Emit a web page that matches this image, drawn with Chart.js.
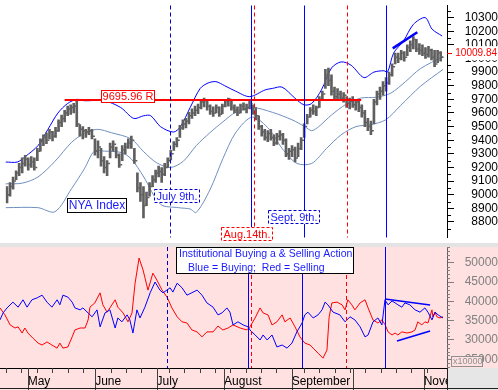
<!DOCTYPE html>
<html>
<head>
<meta charset="utf-8">
<script src="https://cdn.jsdelivr.net/npm/chart.js@4.4.0/dist/chart.umd.min.js"></script>
<style>
  html, body { margin: 0; padding: 0; background: #fff; }
  #wrap { position: relative; width: 498px; height: 390px; overflow: hidden; }
  #top { position: absolute; left: 0; top: 0; }
  #bottom { position: absolute; left: 0; top: 243px; }
</style>
</head>
<body>
<div id="wrap">
  <canvas id="top" width="498" height="243"></canvas>
  <canvas id="bottom" width="498" height="147"></canvas>
</div>
<script>
// NYA daily bars, one per trading day (day 0 = Apr 18)
var highs = [9060,9090,9130,9175,9230,9270,9290,9270,9280,9270,9340,9410,9440,9455,9480,9465,9495,9550,9585,9620,
  9650,9660,9670,9700,9515,9500,9480,9495,9480,9410,9395,9340,9280,9250,9380,9395,9350,9300,9360,9380,
  9410,9430,9340,9160,9090,9060,9020,9090,9140,9180,9210,9200,9230,9270,9325,9390,9420,9510,9550,9560,
  9605,9630,9650,9665,9700,9710,9690,9660,9645,9660,9645,9665,9700,9710,9690,9660,9645,9665,9675,9665,
  9690,9660,9640,9580,9510,9480,9470,9480,9440,9450,9470,9450,9410,9340,9360,9350,9380,9420,9520,9590,
  9640,9660,9650,9720,9760,9920,9930,9880,9790,9780,9760,9750,9720,9710,9720,9700,9690,9660,9620,9560,
  9540,9700,9760,9790,9830,9860,9900,9960,10040,10040,10060,10050,10100,10130,10160,10140,10110,10100,10080,10090,
  10070,10060,10060,10050];
var lows = [8940,8990,9040,9110,9140,9160,9210,9180,9200,9180,9250,9320,9360,9375,9410,9395,9420,9465,9500,9535,
  9580,9590,9600,9500,9430,9410,9420,9440,9410,9290,9270,9210,9160,9140,9270,9320,9270,9200,9250,9300,
  9340,9340,9230,9020,8950,8830,8920,8990,9060,9090,9130,9090,9140,9200,9255,9325,9350,9420,9480,9490,
  9520,9560,9580,9595,9630,9645,9620,9590,9575,9600,9575,9595,9645,9650,9620,9600,9580,9600,9620,9600,
  9630,9590,9550,9480,9430,9400,9390,9400,9360,9370,9400,9370,9280,9260,9280,9240,9280,9330,9420,9520,
  9570,9590,9580,9640,9690,9780,9800,9730,9700,9700,9690,9680,9640,9630,9640,9620,9610,9570,9500,9470,
  9440,9520,9660,9700,9730,9760,9810,9870,9960,9970,9990,9980,10020,10050,10070,10050,10030,10020,10000,10010,
  9990,9940,9970,9980];
var closes = [9000,9060,9100,9160,9200,9230,9260,9220,9240,9200,9320,9390,9420,9400,9460,9430,9470,9530,9560,9600,
  9630,9640,9650,9520,9480,9470,9460,9470,9430,9320,9350,9250,9200,9230,9350,9370,9290,9220,9330,9350,
  9380,9400,9250,9050,9000,8920,8980,9060,9110,9160,9170,9150,9200,9250,9300,9370,9400,9490,9520,9540,
  9580,9600,9620,9640,9680,9690,9650,9610,9600,9640,9590,9650,9690,9700,9640,9620,9600,9650,9630,9640,
  9670,9610,9580,9500,9460,9420,9450,9420,9380,9430,9440,9400,9300,9320,9330,9270,9340,9400,9500,9570,
  9620,9610,9640,9700,9740,9880,9840,9760,9720,9740,9710,9730,9670,9690,9660,9680,9640,9600,9530,9500,
  9470,9680,9740,9760,9800,9820,9880,9940,10010,10000,10040,10010,10080,10100,10140,10070,10060,10040,10030,10060,
  10010,9960,10040,10009.84];

// Bollinger bands, read at (day, value)
var upperDays = [0,3.9,6.5,10.7,14,17.3,20.5,23.5,26,32.6,38,42.3,45.6,47.9,51.1,55.4,57.7,60.9,64.2,66.8,69.4,72.3,75.9,80.5,
  85.7,88,91.2,95.4,98.4,101,104.2,107.5,110.7,114,118.2,121.5,124.8,126,128,131.3,134.5,138.4,140.7,144];
var upperBand = [9240,9240,9280,9360,9480,9600,9670,9700,9690,9690,9640,9560,9580,9580,9500,9460,9500,9640,9780,9820,9830,9800,9760,9720,
  9770,9780,9790,9710,9660,9670,9770,9930,9975,9950,9860,9900,9910,9900,10040,10130,10250,10300,10215,10165];
var middleDays = [0,5.5,10.7,16.3,21.8,26,30.3,34.9,41.4,45.6,49.8,54.4,58.6,62.9,67.4,71.7,75.9,81.4,88,94.5,98.7,101,103.3,
  107.5,112.4,117.3,122.1,127,131.9,136.8,144.3];
var middleBand = [9080,9085,9130,9245,9385,9450,9480,9455,9410,9315,9235,9200,9245,9360,9455,9535,9605,9640,9605,9550,9500,9470,9500,
  9585,9665,9710,9715,9745,9830,9925,10015];
var lowerDays = [0,10.7,16.3,21.8,26,29.3,32.6,38.1,41.4,45.6,51.1,57,60.9,62.9,67.4,71.7,75.9,81.4,87,91.2,96.1,101,105.9,
  110.7,115.6,120.5,125.4,130.3,136.8,144.3];
var lowerBand = [8905,8905,8875,9045,9190,9320,9320,9310,9265,9130,8930,8905,8895,8870,9035,9265,9455,9570,9480,9340,9230,9230,9340,
  9440,9500,9515,9550,9655,9795,9920];

// institutional buying / selling (day, value)
var buyDays = [0,1,2.3,4.2,5.9,7.5,8.8,10.4,12.1,13.7,15.3,16.9,18.6,19.5,20.5,22.1,23.5,24.4,26.1,27,28.7,30,31.6,32.6,34.2,
  35.8,37.5,38.4,39.7,41.4,42.3,43.3,44.6,45.6,47.2,48.9,50.5,52.1,53.1,55.4,56.3,57.7,59.3,60.9,64.2,65.8,67.4,69.4,71,
  72.3,73.9,74.9,75.9,77.5,79.2,80.8,81.4,83.1,84.7,85.7,87,88.6,90.2,91.9,93.5,95.1,96.7,98.4,99.3,100.3,102,103.6,104.9,
  105.9,106.8,108.5,110.7,112.4,114,115.6,117.3,118.9,119.9,121.5,123.1,124.4,125.4,126.4,127.7,128.7,129.6,130.9,131.9,
  133.5,135.2,136.8,138.4,139.4,140.7,141.7,142.7,144.3];
var buying = [35200,37000,38300,39800,38500,40400,38500,40400,40900,41600,39800,38500,40400,39100,41600,41100,39800,38300,37800,38300,
  37000,36000,37800,33400,37000,37800,33100,35700,34700,36500,35200,31800,37800,35700,38500,42200,45000,42900,42200,43500,
  42400,44700,43500,41600,42900,41600,39600,38500,36500,37000,38300,37200,33900,34700,33900,33400,32600,31300,30000,31300,
  30000,31300,28200,28700,27900,29200,32100,34400,36500,37200,35700,36500,37800,39800,39100,37200,36500,34700,36000,35200,
  33400,30800,31300,34700,35700,33900,40400,39100,40100,39600,39100,38500,39600,39100,37800,37200,38300,37200,35200,37200,
  36500,35700];
var sellDays = [0,1.6,3.3,4.9,5.9,7.2,8.1,9.1,10.7,12.4,13.7,15.3,16.9,18.6,19.5,20.5,22.1,23.5,24.4,26.1,27.7,28.7,29.3,30.9,
  32.6,33.5,34.9,35.8,37.5,38.4,40.1,41.7,43,44,45.3,46.6,48.2,49.8,51.1,52.8,54.4,56,57.7,59.3,60.9,62.5,64.2,65.8,67.4,
  69.4,71,72.6,74.3,75.9,78.2,80.4,81.4,83.1,84.7,85.7,87.3,88.6,90.2,91.9,92.8,94.5,96.1,97.7,99.3,101,102,103.6,105.2,
  106.5,107.2,108.1,109.8,111.4,112.4,113.3,114.6,115.6,117.3,118.9,119.9,121.5,123.1,124.4,125.4,126.4,127.7,128.7,129.6,
  130.9,132.6,134.2,135.2,136.1,137.4,138.4,139.4,140.7,141,141.7,142.3,143.3,144.3];
var selling = [38300,36500,33900,33100,33400,31800,33100,31800,30500,29200,28700,29500,28700,27900,29200,27900,28200,30800,32600,33100,
  33100,35200,38500,39600,42200,39100,37200,38300,40400,38500,37000,34700,37000,44700,51200,48100,42900,47300,45500,42900,
  41100,38300,36000,34700,34400,32600,32100,30800,32100,32100,33600,32600,33100,33900,33100,32600,33400,35700,38300,37000,
  36500,33900,34700,36500,34700,35700,33400,30800,29200,28700,27900,26600,25300,27400,35900,39600,39800,39100,37800,40400,
  39100,37800,39600,40400,38300,35200,34400,35200,34000,32100,31300,31800,31300,32100,31800,32100,32600,34700,33900,34700,
  34400,37800,36000,37200,36000,35700,36000];

// axes and markers
var priceTicks = [8800,8900,9000,9100,9200,9300,9400,9500,9600,9700,9800,9900,10000,10100,10200,10300];
var flowTicks = [25000,30000,35000,40000,45000,50000];
var monthStarts = [9, 31, 51, 73, 95, 115, 138];
var monthNames = ['May', 'June', 'July', 'August', 'September', '', 'November'];
var weekStarts = [2,7,12,17,22,27,36,41,46,55,60,65,70,75,80,85,90,99,104,109,114,119,124,129,134,139];
var resistance = 9695.96;
var resistanceDays = [19.5, 117.3];
var priceTrendDays = [127.7, 135.8];
var priceTrend = [10074, 10193];
var flowTopDays = [125.4, 140.1];
var flowTop = [40600, 39060];
var flowBottomDays = [129.3, 140.1];
var flowBottom = [29740, 32330];
var markerDays = [54.4, 80.8, 81.8, 98.4, 112.7, 125.4];

var FONT = '"Liberation Sans", Arial, sans-serif';
var DAY_MAX = 145.6;
var markerStyles = [
  {color: '#0000cc', dash: [4, 3]},
  {color: '#0000ff', dash: []},
  {color: '#ff0000', dash: [4, 3]},
  {color: '#0000ff', dash: []},
  {color: '#ff0000', dash: [4, 3]},
  {color: '#0000ff', dash: []}
];

function pts(xs, ys) {
  return xs.map(function(x, i) { return {x: x, y: ys[i]}; });
}

function lineSet(data, color, width, order, tension) {
  return {type: 'line', data: data, borderColor: color, borderWidth: width, pointRadius: 0,
    tension: tension || 0, fill: false, order: order};
}

function drawMarkers(chart) {
  var ctx = chart.ctx, a = chart.chartArea, xs = chart.scales.x;
  ctx.save();
  markerDays.forEach(function(d, i) {
    var x = Math.round(xs.getPixelForValue(d)) + 0.5;
    ctx.strokeStyle = markerStyles[i].color;
    ctx.lineWidth = 1;
    ctx.setLineDash(markerStyles[i].dash);
    ctx.beginPath();
    ctx.moveTo(x, a.top);
    ctx.lineTo(x, a.bottom);
    ctx.stroke();
  });
  ctx.restore();
}

function label(ctx, x, y, w, h, text, textColor, borderColor, dash, size) {
  ctx.save();
  ctx.fillStyle = '#fff';
  ctx.fillRect(x, y, w, h);
  ctx.strokeStyle = borderColor;
  ctx.lineWidth = 1;
  ctx.setLineDash(dash);
  ctx.strokeRect(x + 0.5, y + 0.5, w - 1, h - 1);
  ctx.fillStyle = textColor;
  ctx.font = size + 'px ' + FONT;
  ctx.textAlign = 'center';
  ctx.textBaseline = 'middle';
  ctx.fillText(text, x + w / 2, y + h / 2 + 0.5);
  ctx.restore();
}

function minorTicks(chart, from, to, step, skip, len, color) {
  var ctx = chart.ctx, ys = chart.scales.y, x0 = chart.chartArea.right;
  ctx.save();
  ctx.strokeStyle = color;
  ctx.lineWidth = 1;
  for (var v = from; v <= to; v += step) {
    if (v % skip === 0) continue;
    var y = Math.round(ys.getPixelForValue(v)) + 0.5;
    ctx.beginPath();
    ctx.moveTo(x0, y);
    ctx.lineTo(x0 + len, y);
    ctx.stroke();
  }
  ctx.restore();
}

var topPlugin = {
  id: 'topExtras',
  afterDatasetsDraw: function(chart) {
    drawMarkers(chart);
  },
  afterDraw: function(chart) {
    var ctx = chart.ctx, ys = chart.scales.y;
    minorTicks(chart, 8700, 10350, 50, 100, 4, '#000');
    label(ctx, 101, 90, 54, 13, '9695.96 R', '#ff0000', '#ff0000', [], 11);
    label(ctx, 67, 198, 60, 15, 'NYA Index', '#1a1aff', '#000', [], 12);
    label(ctx, 154, 189, 46, 14, 'July 9th.', '#1a1aff', '#0000cc', [3, 2], 11);
    label(ctx, 268, 210, 52, 14, 'Sept. 9th.', '#1a1aff', '#0000cc', [3, 2], 11);
    label(ctx, 221, 227, 52, 14, 'Aug.14th.', '#ff0000', '#ff0000', [3, 2], 11);
    // last price tag on the axis
    var last = closes[closes.length - 1];
    var y = ys.getPixelForValue(last) - 4;
    ctx.save();
    ctx.fillStyle = '#fff';
    ctx.fillRect(448, y - 7, 50, 14);
    ctx.strokeStyle = '#ff0000';
    ctx.beginPath();
    ctx.moveTo(447, Math.round(y) + 0.5);
    ctx.lineTo(452, Math.round(y) + 0.5);
    ctx.stroke();
    ctx.fillStyle = '#ff0000';
    ctx.font = '10px ' + FONT;
    ctx.textAlign = 'right';
    ctx.textBaseline = 'middle';
    ctx.fillText(last.toFixed(2), 497, y);
    ctx.restore();
  }
};

var bottomPlugin = {
  id: 'bottomExtras',
  beforeDraw: function(chart) {
    var ctx = chart.ctx;
    ctx.save();
    ctx.fillStyle = '#ffe1e1';
    ctx.fillRect(0, 0, chart.width, chart.height);
    ctx.fillStyle = '#e3e3e3';
    ctx.fillRect(0, 0, chart.width, 4);
    ctx.restore();
  },
  afterDatasetsDraw: function(chart) {
    drawMarkers(chart);
  },
  afterDraw: function(chart) {
    var ctx = chart.ctx, a = chart.chartArea, xs = chart.scales.x;
    minorTicks(chart, 23000, 54000, 1000, 5000, 3, '#808080');
    ctx.save();
    ctx.strokeStyle = '#404040';
    ctx.lineWidth = 1;
    monthStarts.forEach(function(d) {
      var x = Math.round(xs.getPixelForValue(d)) + 0.5;
      ctx.beginPath();
      ctx.moveTo(x, a.bottom);
      ctx.lineTo(x, chart.height);
      ctx.stroke();
    });
    weekStarts.forEach(function(d) {
      var x = Math.round(xs.getPixelForValue(d)) + 0.5;
      ctx.beginPath();
      ctx.moveTo(x, a.bottom);
      ctx.lineTo(x, a.bottom + 5);
      ctx.stroke();
    });
    // corner box under the right axis
    ctx.fillStyle = '#e6e6e6';
    ctx.fillRect(a.right, a.bottom, chart.width - a.right, chart.height - a.bottom);
    ctx.strokeStyle = '#202020';
    ctx.beginPath();
    ctx.moveTo(a.right + 0.5, a.bottom);
    ctx.lineTo(a.right + 0.5, chart.height);
    ctx.moveTo(0, chart.height - 1.5);
    ctx.lineTo(chart.width, chart.height - 1.5);
    ctx.stroke();
    // x10000 note
    ctx.fillStyle = '#ffe1e1';
    ctx.fillRect(451, a.bottom - 12, 32, 11);
    ctx.strokeStyle = '#909090';
    ctx.strokeRect(451.5, a.bottom - 11.5, 31, 10);
    ctx.fillStyle = '#909090';
    ctx.font = '9px ' + FONT;
    ctx.textAlign = 'left';
    ctx.textBaseline = 'middle';
    ctx.fillText('x10000', 453, a.bottom - 6);
    ctx.restore();
    // legend box
    ctx.save();
    ctx.fillStyle = '#fff';
    ctx.fillRect(176, 4, 178, 27);
    ctx.strokeStyle = '#000';
    ctx.strokeRect(176.5, 4.5, 177, 26);
    ctx.fillStyle = '#1a1aff';
    ctx.font = '10.5px ' + FONT;
    ctx.textBaseline = 'middle';
    ctx.fillText('Institutional Buying a & Selling Action', 179, 11);
    ctx.fillText('Blue = Buying;  Red = Selling', 188, 25);
    ctx.restore();
  }
};

function fixY(s) { s.width = 51; s.paddingTop = 0; s.paddingBottom = 0; }
function fixX(s) { s.height = 22; s.paddingLeft = 0; s.paddingRight = 0; }

var barData = highs.map(function(h, i) { return {x: i + 0.5, y: [lows[i], h]}; });
var closeData = closes.map(function(c, i) { return {x: i + 1.15, y: c}; });

new Chart(document.getElementById('top'), {
  type: 'line',
  data: {
    datasets: [
      lineSet(pts(resistanceDays, [resistance, resistance]), '#ff0000', 2, 0),
      lineSet(pts(priceTrendDays, priceTrend), '#0000ff', 2.5, 0),
      {type: 'bar', data: barData, backgroundColor: '#5f5f5f', barThickness: 2, order: 1},
      {type: 'scatter', data: closeData, pointStyle: 'line', pointRadius: 1, borderColor: '#5f5f5f',
        borderWidth: 1.5, order: 1},
      lineSet(pts(upperDays, upperBand), '#0000ff', 1, 2, 0.3),
      lineSet(pts(middleDays, middleBand), '#6f8fbf', 1, 2, 0.3),
      lineSet(pts(lowerDays, lowerBand), '#6f8fbf', 1, 2, 0.3)
    ]
  },
  options: {
    responsive: false,
    animation: false,
    layout: {padding: 0},
    plugins: {legend: {display: false}, tooltip: {enabled: false}},
    scales: {
      x: {type: 'linear', min: 0, max: DAY_MAX, display: false, offset: false},
      y: {
        position: 'right', min: 8686, max: 10389,
        afterBuildTicks: function(s) { s.ticks = priceTicks.map(function(v) { return {value: v}; }); },
        afterFit: fixY,
        ticks: {callback: function(v) { return String(v); }, autoSkip: false, color: '#000', padding: 8,
          crossAlign: 'far', font: {family: FONT, size: 12}},
        grid: {drawOnChartArea: false, tickLength: 7, color: '#000'},
        border: {color: '#000'}
      }
    }
  },
  plugins: [topPlugin]
});

new Chart(document.getElementById('bottom'), {
  type: 'line',
  data: {
    datasets: [
      lineSet(pts(flowTopDays, flowTop), '#0000ff', 1.5, 0),
      lineSet(pts(flowBottomDays, flowBottom), '#0000ff', 1.5, 0),
      lineSet(pts(buyDays, buying), '#0000ff', 1, 1),
      lineSet(pts(sellDays, selling), '#ff0000', 1, 1)
    ]
  },
  options: {
    responsive: false,
    animation: false,
    layout: {padding: {top: 4}},
    plugins: {legend: {display: false}, tooltip: {enabled: false}},
    scales: {
      x: {
        type: 'linear', min: 0, max: DAY_MAX, offset: false,
        afterBuildTicks: function(s) { s.ticks = monthStarts.map(function(v) { return {value: v}; }); },
        afterFit: fixX,
        ticks: {callback: function(v, i) { return monthNames[i]; }, autoSkip: false, maxRotation: 0, minRotation: 0,
          align: 'start', padding: 6, color: '#000', font: {family: FONT, size: 12}},
        grid: {display: false, drawTicks: false},
        border: {color: '#000'}
      },
      y: {
        position: 'right', min: 22755, max: 54060,
        afterBuildTicks: function(s) { s.ticks = flowTicks.map(function(v) { return {value: v}; }); },
        afterFit: fixY,
        ticks: {callback: function(v) { return String(v); }, autoSkip: false, color: '#808080', padding: 8,
          crossAlign: 'far', font: {family: FONT, size: 12}},
        grid: {drawOnChartArea: false, tickLength: 7, color: '#808080'},
        border: {color: '#606060'}
      }
    }
  },
  plugins: [bottomPlugin]
});
</script>
</body>
</html>
